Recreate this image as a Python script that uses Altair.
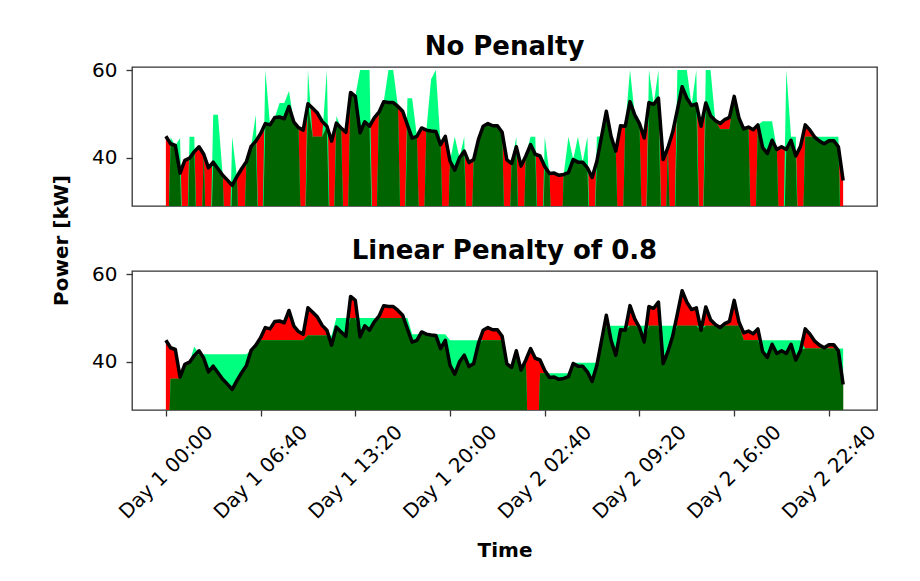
import altair as alt
import pandas as pd

# time axis in minutes (20-minute samples over two days)
minutes = list(range(0, 2880, 20))

load = [44.9, 43.2, 42.8, 36.5, 39.4, 39.9, 41.4, 42.5, 40.8, 37.7,
        39.0, 37.5, 36.0, 34.9, 33.7, 35.7, 37.5, 39.1, 42.6, 43.8,
        45.5, 47.8, 47.5, 49.2, 49.3, 48.9, 51.7, 48.2, 46.9, 46.3,
        52.3, 51.3, 50.2, 48.3, 47.2, 43.8, 47.9, 46.8, 45.8, 54.9,
        54.0, 45.7, 48.2, 47.2, 49.1, 50.4, 52.8, 52.6, 52.6, 51.7,
        50.6, 47.5, 44.5, 44.9, 46.8, 46.3, 46.1, 46.0, 43.0, 44.9,
        39.2, 37.2, 40.0, 41.5, 38.9, 39.6, 44.2, 47.2, 47.8, 47.3,
        47.3, 45.8, 39.5, 38.7, 42.5, 38.1, 40.4, 43.0, 40.8, 40.4,
        38.0, 36.4, 36.5, 36.0, 36.2, 36.6, 39.6, 39.0, 39.0, 37.7,
        35.5, 39.2, 44.9, 50.6, 44.9, 41.5, 47.3, 47.2, 52.8, 49.8,
        47.8, 44.5, 52.6, 52.2, 53.6, 39.6, 42.3, 45.8, 50.9, 56.2,
        53.6, 51.9, 52.3, 47.2, 52.5, 49.6, 48.5, 47.8, 48.7, 49.2,
        54.0, 49.1, 46.6, 47.0, 46.4, 47.5, 42.3, 41.0, 44.0, 41.9,
        42.5, 41.9, 44.0, 40.4, 42.6, 47.5, 46.3, 44.7, 43.8, 43.2,
        43.9, 43.9, 42.5, 34.8]

supply_no_penalty = [0, 44.7, 42.8, 44.5, 0, 44.8, 44.8, 0, 40.8, 0,
        49.8, 49.8, 36.0, 0, 44.8, 35.7, 0, 39.1, 42.6, 49.8,
        0, 60, 47.5, 49.2, 52.5, 52.5, 55.2, 48.2, 46.9, 0,
        60, 44.8, 44.8, 44.8, 60, 0, 49.5, 46.8, 0, 54.9,
        54.0, 60, 60, 60, 0, 50.4, 52.8, 60, 60, 51.7,
        0, 53.6, 53.6, 44.9, 0, 46.3, 57.9, 60, 43.0, 0,
        39.2, 44.8, 40.0, 44.8, 0, 39.6, 44.2, 47.2, 47.8, 47.3,
        47.3, 45.8, 0, 38.7, 44.8, 0, 40.4, 44.8, 44.8, 0,
        44.8, 36.4, 0, 0, 36.2, 44.8, 39.6, 44.8, 39.0, 44.8,
        0, 44.8, 44.9, 50.6, 44.9, 41.5, 0, 47.2, 60, 49.8,
        47.8, 0, 60, 52.2, 60, 0, 42.3, 0, 60, 60,
        60, 51.9, 60, 0, 60, 60, 48.5, 46.5, 46.5, 46.5,
        54.0, 49.1, 46.6, 47.0, 0, 47.5, 48.3, 48.3, 48.3, 41.9,
        0, 60, 44.8, 44.8, 0, 44.8, 44.8, 44.8, 44.8, 44.8,
        44.8, 44.8, 44.8, 0]

supply_linear = [0, 36.1, 36.1, 36.1, 39.4, 39.9, 43.5, 41.7, 41.7, 41.7,
        41.7, 41.7, 41.7, 41.7, 41.7, 41.7, 41.7, 41.7, 42.6, 43.8,
        44.9, 44.9, 44.9, 44.9, 44.9, 44.9, 44.9, 44.9, 44.9, 44.9,
        46.0, 46.0, 46.0, 46.0, 46.0, 46.0, 50.0, 50.0, 50.0, 50.0,
        50.0, 50.0, 50.0, 50.0, 50.0, 50.0, 50.0, 50.0, 50.0, 50.0,
        50.0, 50.0, 46.3, 46.3, 46.3, 46.3, 46.3, 46.3, 46.3, 46.3,
        44.9, 44.9, 44.9, 44.9, 44.9, 44.9, 44.9, 44.9, 44.9, 44.9,
        44.9, 44.9, 39.5, 38.7, 42.5, 38.1, 40.4, 0, 0, 37.4,
        37.4, 37.4, 37.4, 37.4, 37.4, 37.4, 39.8, 39.8, 39.8, 39.8,
        39.8, 39.8, 44.9, 48.2, 48.2, 48.2, 48.2, 48.2, 48.2, 48.2,
        48.2, 48.2, 48.2, 48.2, 48.2, 48.2, 48.2, 48.2, 48.2, 48.2,
        48.2, 48.2, 48.2, 48.2, 48.2, 48.2, 48.2, 48.2, 48.2, 48.2,
        48.2, 48.2, 44.9, 44.9, 44.9, 44.9, 44.9, 44.9, 44.9, 44.9,
        44.9, 44.9, 44.9, 44.9, 44.9, 43.0, 43.0, 43.0, 43.0, 43.0,
        43.0, 43.0, 43.0, 43.0]

tick_minutes = [0, 400, 800, 1200, 1600, 2000, 2400, 2800]

df = pd.DataFrame({"t": minutes, "load": load,
                   "s1": supply_no_penalty, "s2": supply_linear})

W, H = 745, 139
X_DOMAIN = [-143, 3003]
Y_DOMAIN = [29.0, 60.7]
FONT = "DejaVu Sans"

label_expr = ("'Day ' + (floor(datum.value/1440)+1) + ' ' + "
              "format(floor((datum.value%1440)/60),'02d') + ':' + "
              "format(datum.value%60,'02d')")


def panel(sfield, title, bottom):
    xscale = alt.Scale(domain=X_DOMAIN, nice=False, zero=False)
    yscale = alt.Scale(domain=Y_DOMAIN, nice=False, zero=False)
    if bottom:
        xaxis = alt.Axis(values=tick_minutes, labelExpr=label_expr,
                         labelAngle=315, labelAlign="center",
                         labelBaseline="middle", labelPadding=56,
                         labelOverlap=False, labelFlush=False,
                         labelFontSize=20, labelFont=FONT, labelColor="black",
                         title="Time", titleFontSize=20, titleFont=FONT,
                         titleFontWeight="bold", titleY=140,
                         titleBaseline="middle", titleColor="black",
                         grid=False, domain=False, tickSize=6,
                         tickWidth=1.3, tickColor="#333")
        yaxis = alt.Axis(values=[40, 60], title=None, grid=False,
                         domain=False, tickSize=6, tickWidth=1.3,
                         tickColor="#333", labelPadding=9, labelFontSize=20,
                         labelFont=FONT, labelColor="black")
        x = alt.X("t:Q", scale=xscale, axis=xaxis)
    else:
        yaxis = alt.Axis(values=[40, 60], title="Power [kW]", titleX=-71,
                         titleY=173, titleAngle=270, titleAlign="center",
                         titleBaseline="middle", titleFontSize=20,
                         titleFont=FONT, titleFontWeight="bold",
                         titleColor="black", grid=False, domain=False,
                         tickSize=6, tickWidth=1.3, tickColor="#333",
                         labelPadding=9, labelFontSize=20, labelFont=FONT,
                         labelColor="black")
        x = alt.X("t:Q", scale=xscale, axis=None)

    base = alt.Chart(df).transform_calculate(
        mn=f"min(datum.load, datum.{sfield})")

    def yenc(field):
        return alt.Y(f"{field}:Q", scale=yscale, axis=yaxis)

    red = base.mark_area(color="#ff0000", clip=True, interpolate="linear").encode(
        x=x, y=yenc("load"), y2=alt.value(H))
    light = base.mark_area(color="#00ff7f", clip=True, interpolate="linear").encode(
        x=x, y=yenc(sfield), y2=alt.value(H))
    dark = base.mark_area(color="#006400", clip=True, interpolate="linear").encode(
        x=x, y=yenc("mn"), y2=alt.value(H))
    line = base.mark_line(color="black", strokeWidth=3.5, clip=True,
                          strokeJoin="round").encode(x=x, y=yenc("load"))
    return alt.layer(red, light, dark, line).properties(
        width=W, height=H,
        title=alt.TitleParams(text=title, fontSize=26, fontWeight="bold",
                              font=FONT, anchor="middle", offset=-21,
                              baseline="alphabetic", color="black"))


top = panel("s1", "No Penalty", False)
bot = panel("s2", "Linear Penalty of 0.8", True)

chart = alt.vconcat(top, bot, spacing=65, bounds="flush").properties(
    padding={"left": 42, "top": 25, "right": 10, "bottom": 10}
).configure(
    background="white",
    view=alt.ViewConfig(stroke="#333", strokeWidth=1.3),
)

chart.save("out.html", embed_options={"renderer": "svg", "actions": False})
